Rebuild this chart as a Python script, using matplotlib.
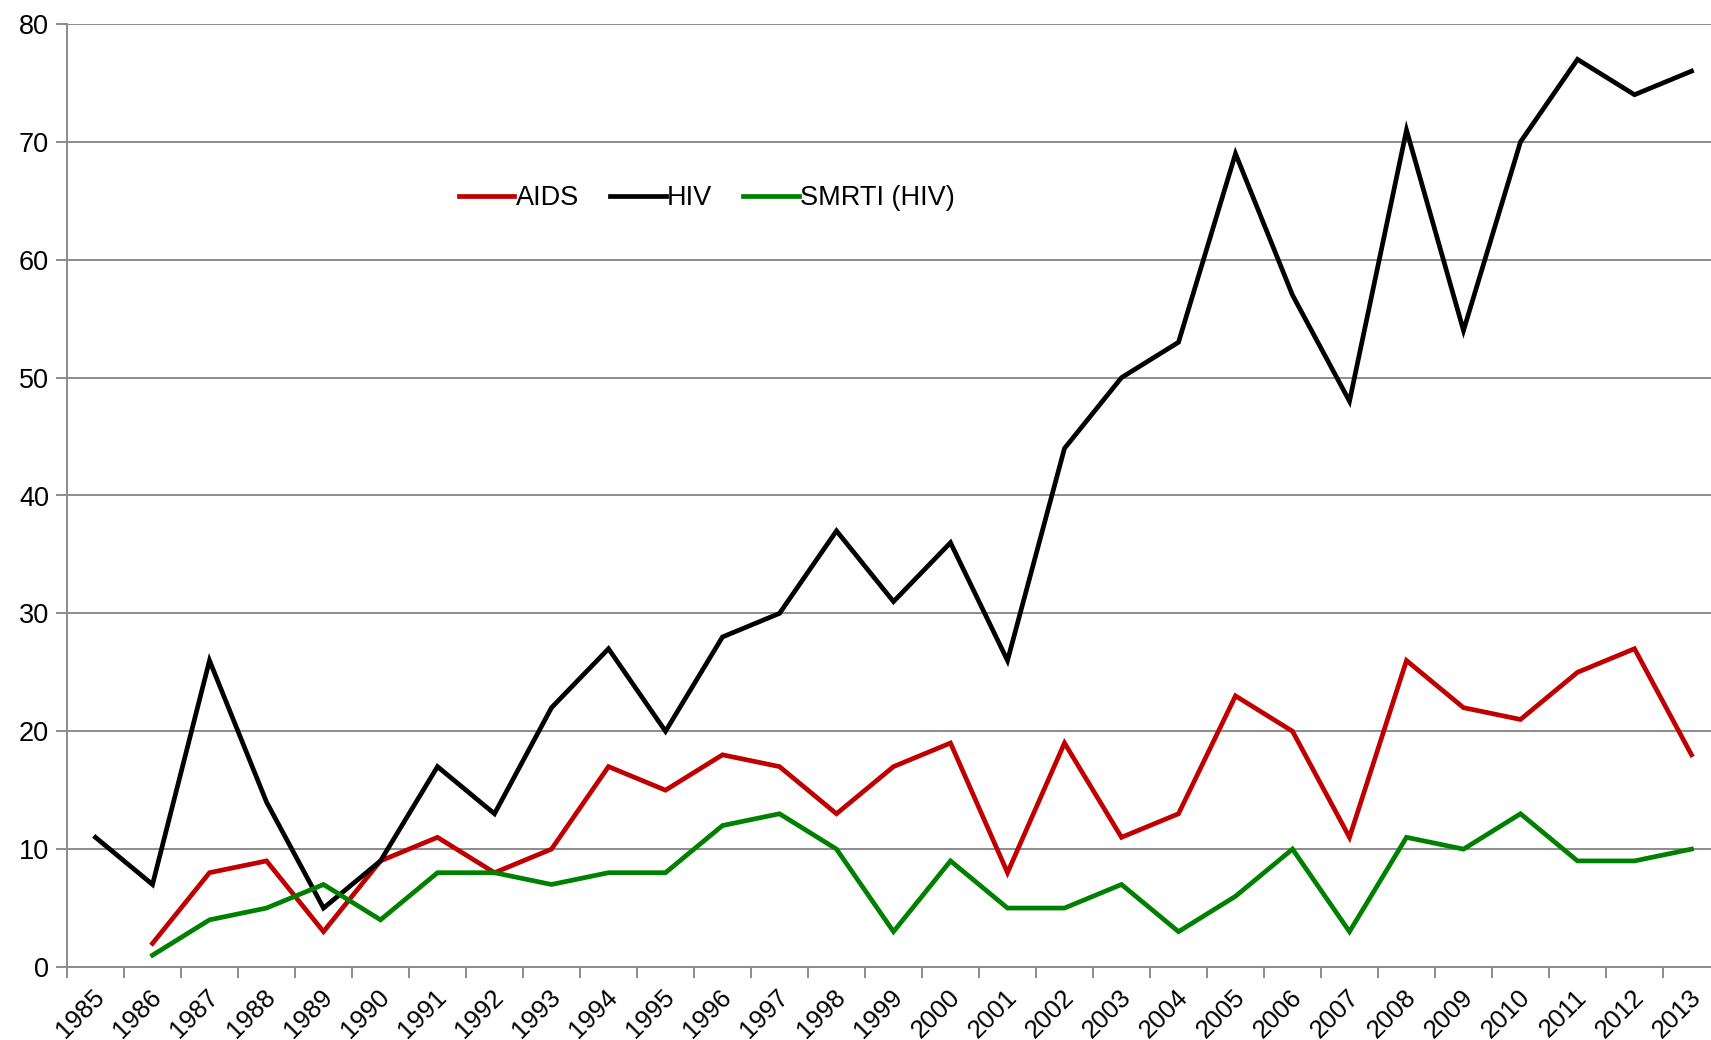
import numpy as np
import matplotlib.pyplot as plt
from matplotlib.transforms import ScaledTranslation

years = list(range(1985, 2014))

hiv = [11, 7, 26, 14, 5, 9, 17, 13, 22, 27, 20, 28, 30, 37, 31, 36, 26, 44,
       50, 53, 69, 57, 48, 71, 54, 70, 77, 74, 76]
aids = [np.nan, 2, 8, 9, 3, 9, 11, 8, 10, 17, 15, 18, 17, 13, 17, 19, 8, 19,
        11, 13, 23, 20, 11, 26, 22, 21, 25, 27, 18]
smrti = [np.nan, 1, 4, 5, 7, 4, 8, 8, 7, 8, 8, 12, 13, 10, 3, 9, 5, 5,
         7, 3, 6, 10, 3, 11, 10, 13, 9, 9, 10]


def main():
    plt.rcParams['font.family'] = ['Liberation Sans', 'DejaVu Sans']
    fig = plt.figure(figsize=(17.11, 10.40), dpi=100)
    ax = fig.add_axes([67 / 1711, 1 - 967 / 1040, 1653 / 1711, (967 - 24) / 1040])

    x = np.arange(len(years))
    ax.plot(x, aids, color='#C00000', lw=3.4, label='AIDS', solid_joinstyle='miter')
    ax.plot(x, hiv, color='black', lw=3.4, label='HIV', solid_joinstyle='miter')
    ax.plot(x, smrti, color='#008000', lw=3.4, label='SMRTI (HIV)', solid_joinstyle='miter')

    ax.set_xlim(-0.5, len(years) - 0.5)
    ax.set_ylim(0, 80)
    ax.set_yticks(range(0, 81, 10))
    ax.yaxis.grid(True, color='#8C8C8C', lw=1.4)
    ax.set_axisbelow(True)

    ax.set_xticks(np.arange(len(years) + 1) - 0.5)
    ax.set_xticklabels([])
    ax.set_xticks(x, minor=True)
    ax.set_xticklabels([str(y) for y in years], minor=True, rotation=45,
                       ha='right', va='top', rotation_mode='anchor', fontsize=18.5)
    ax.tick_params(axis='x', which='minor', length=0, pad=13)
    ax.tick_params(axis='x', which='major', length=8, width=1.4, color='#8C8C8C')
    ax.tick_params(axis='y', length=8, width=1.4, color='#8C8C8C', labelsize=19.5, pad=5)

    # nudge rotated year labels a little to the left
    shift = ScaledTranslation(-3 / 100, 0, fig.dpi_scale_trans)
    for lbl in ax.get_xticklabels(minor=True):
        lbl.set_transform(lbl.get_transform() + shift)

    for side in ['top', 'right']:
        ax.spines[side].set_visible(False)
    for side in ['left', 'bottom']:
        ax.spines[side].set_color('#8C8C8C')
        ax.spines[side].set_linewidth(1.4)

    ax.legend(loc='center', bbox_to_anchor=(707 / 1711, 1 - 198 / 1040),
              bbox_transform=fig.transFigure, ncol=3, frameon=False,
              fontsize=19.5, handlelength=2.05, handletextpad=0.05, columnspacing=1.15)

    fig.savefig('out.png', dpi=100)


if __name__ == '__main__':
    main()
